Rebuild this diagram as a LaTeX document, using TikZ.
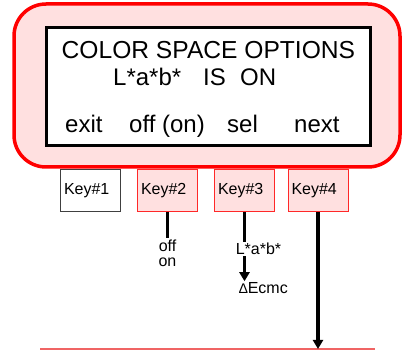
\documentclass[tikz,border=0pt]{standalone}
\usepackage{fontspec}
\setmainfont{Liberation Sans}
\usetikzlibrary{arrows.meta}
\definecolor{pinkfill}{RGB}{255,224,224}
\definecolor{panelred}{RGB}{255,0,0}
\definecolor{keyred}{RGB}{255,40,40}
\definecolor{linered}{RGB}{240,100,100}
\tikzset{
  panel/.style={draw=panelred, line width=3.5pt, fill=pinkfill, rounded corners=32pt},
  screen/.style={draw=black, line width=3pt, fill=white},
  big/.style={font=\fontsize{24}{28}\selectfont, inner sep=0pt, anchor=base west},
  keybox/.style={draw=keyred, line width=1pt, fill=pinkfill, minimum height=42pt,
    text width=53pt, inner xsep=3.5pt, align=left, font=\fontsize{16}{18}\selectfont},
  plainkey/.style={keybox, draw=black!75, fill=white},
  small/.style={font=\fontsize{16}{15}\selectfont, inner sep=1pt, align=center},
  thick line/.style={line width=3.5pt},
  tipline/.style={line width=3.5pt, -{Triangle[length=9pt,width=10pt]}},
  floorline/.style={draw=linered, line width=1.6pt}
}
\begin{document}
\begin{tikzpicture}[x=1pt,y=-1pt]
\useasboundingbox (0,0) rectangle (408,350);
\draw[panel] (14,4) rectangle (400,167);
\draw[screen] (46,28) rectangle (370,145.5);
\node[big, font=\fontsize{24.6}{28}\selectfont] (title) at (61.5,59) {COLOR SPACE OPTIONS};
\node[big] (lab1) at (113,86) {L*a*b*};
\node[big] (is) at (203,86) {IS};
\node[big] (on1) at (240,86) {ON};
\node[big] (exit) at (65,133) {exit};
\node[big] (off) at (129,133) {off (on)};
\node[big] (sel) at (227,133) {sel};
\node[big] (next) at (294,133) {next};
\node[plainkey] (k1) at (90.5,191) {Key\#1};
\node[keybox] (k2) at (167.5,191) {Key\#2};
\node[keybox] (k3) at (244.5,191) {Key\#3};
\node[keybox] (k4) at (318,191) {Key\#4};
\node[small] (offon) at (167.5,253) {off\\on};
\node[small] (labs) at (258.5,249) {L*a*b*};
\node[small] (de) at (263.5,288) {{\fontsize{14}{14}\selectfont ∆}Ecmc};
\coordinate (botL) at (40,349);
\coordinate (botR) at (375,349);
\draw[floorline] (botL) -- (botR);
\draw[thick line] (k2.south) -- (k2.south |- offon.north);
\draw[thick line] (k3.south) -- (k3.south |- labs.north);
\draw[tipline] (k3.south |- labs.south) -- (k3.south |- de.north);
\draw[tipline] (k4.south) -- (k4.south |- botL);
\end{tikzpicture}
\end{document}
